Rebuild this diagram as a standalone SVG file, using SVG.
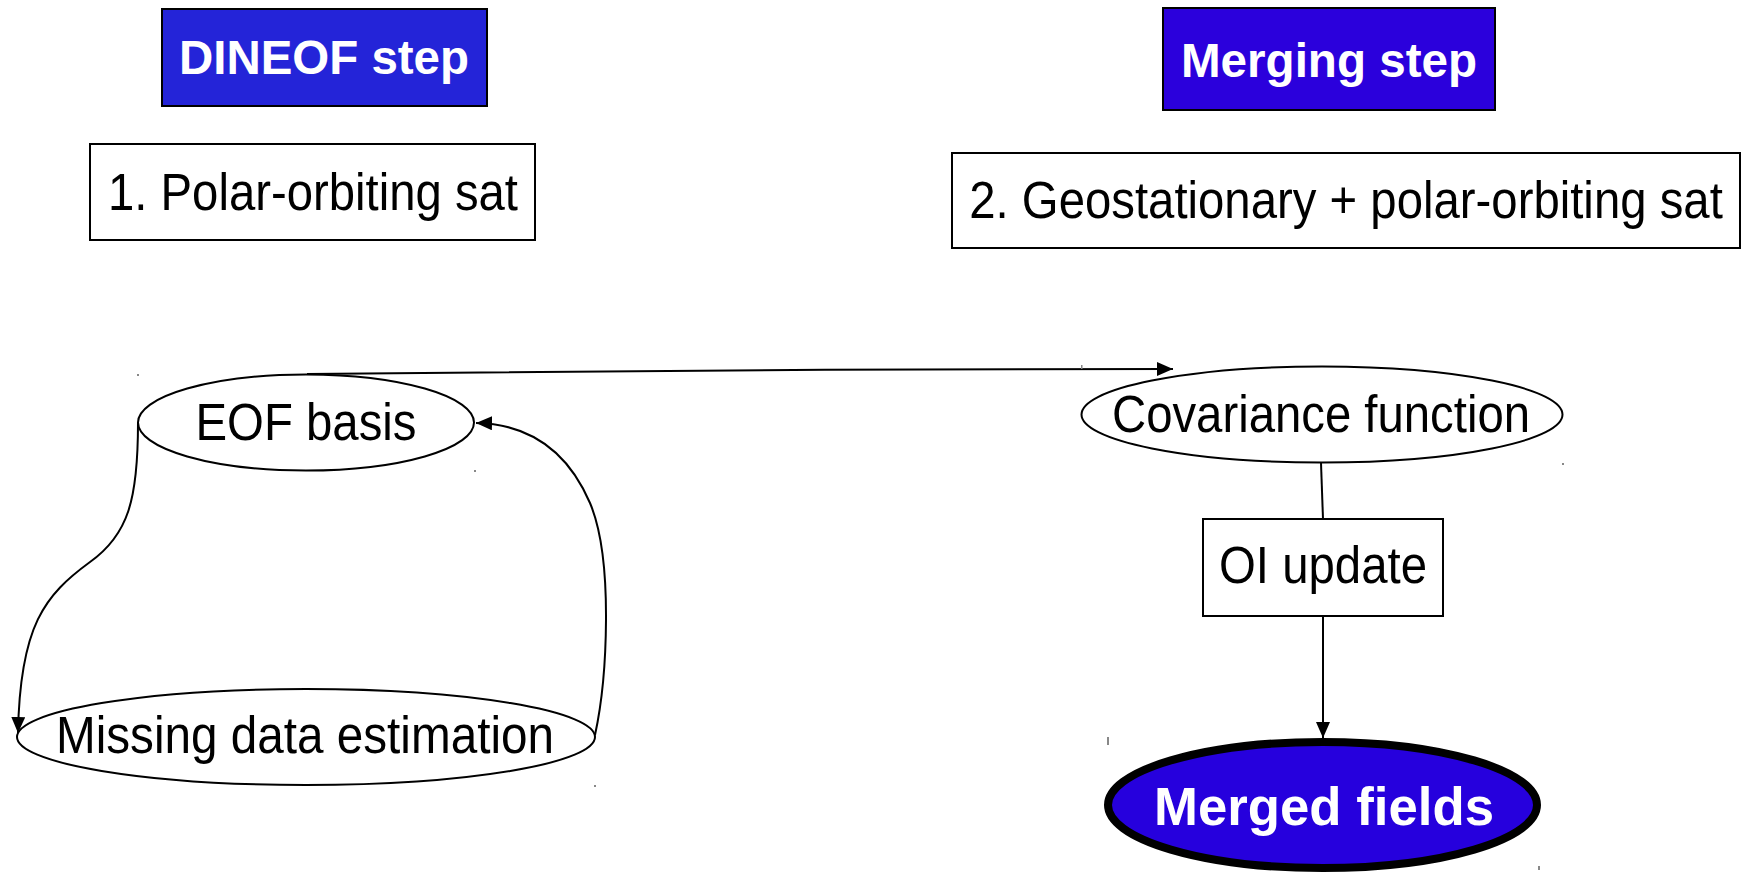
<svg xmlns="http://www.w3.org/2000/svg" width="1745" height="872" viewBox="0 0 1745 872">
  <style>
    .box { fill: #ffffff; stroke: #000000; stroke-width: 2; }
    .node { fill: #ffffff; stroke: #000000; stroke-width: 2; }
    .head { stroke: #000000; stroke-width: 2; }
    .label { font-family: "Liberation Sans", Arial, sans-serif; font-size: 51px; fill: #000000; text-anchor: middle; }
    .title { font-family: "Liberation Sans", Arial, sans-serif; font-size: 48px; font-weight: bold; fill: #ffffff; text-anchor: middle; }
    .edge { fill: none; stroke: #000000; stroke-width: 2; }
    .speck { fill: #888888; }
  </style>
  <defs>
    <marker id="arrow" viewBox="0 0 16 14" refX="16" refY="7" markerWidth="16" markerHeight="14" markerUnits="userSpaceOnUse" orient="auto">
      <path d="M0,0 L16,7 L0,14 Z" fill="#000000"/>
    </marker>
  </defs>

  <rect width="1745" height="872" fill="#ffffff"/>

  <g id="dineof-step">
    <rect x="162" y="9" width="325" height="97" fill="#2424d8" class="head"/>
    <text x="324" y="74" class="title" textLength="290" lengthAdjust="spacingAndGlyphs">DINEOF step</text>
  </g>

  <g id="merging-step">
    <rect x="1163" y="8" width="332" height="102" fill="#2b00dc" class="head"/>
    <text x="1329" y="77" class="title" textLength="296" lengthAdjust="spacingAndGlyphs">Merging step</text>
  </g>

  <g id="polar-sat">
    <rect x="90" y="144" width="445" height="96" class="box"/>
    <text x="313" y="210" class="label" textLength="410" lengthAdjust="spacingAndGlyphs">1. Polar-orbiting sat</text>
  </g>

  <g id="geo-polar-sat">
    <rect x="952" y="153" width="788" height="95" class="box"/>
    <!-- narrowed horizontally so the long label sits inside its box -->
    <text transform="translate(1346,218) scale(0.928,1)" x="0" y="0" class="label">2. Geostationary + polar-orbiting sat</text>
  </g>

  <g id="eof-basis">
    <ellipse cx="306" cy="422.5" rx="168" ry="48" class="node"/>
    <text x="306" y="440" class="label" textLength="221" lengthAdjust="spacingAndGlyphs">EOF basis</text>
  </g>

  <g id="missing-data">
    <ellipse cx="306" cy="737" rx="289" ry="48" class="node"/>
    <text x="305" y="753" class="label" textLength="498" lengthAdjust="spacingAndGlyphs">Missing data estimation</text>
  </g>

  <g id="covariance">
    <ellipse cx="1322" cy="414.5" rx="240.5" ry="48" class="node"/>
    <text x="1321" y="432" class="label" textLength="418" lengthAdjust="spacingAndGlyphs">Covariance function</text>
  </g>

  <g id="oi-update">
    <rect x="1203" y="519" width="240" height="97" class="box"/>
    <text x="1323" y="583" class="label" textLength="208" lengthAdjust="spacingAndGlyphs">OI update</text>
  </g>

  <g id="merged-fields">
    <ellipse cx="1322.5" cy="805" rx="214.5" ry="63" fill="#2600dd" stroke="#000000" stroke-width="8"/>
    <text x="1324" y="825" class="title" style="font-size:53px" textLength="340" lengthAdjust="spacingAndGlyphs">Merged fields</text>
  </g>

  <g id="connectors">
    <path class="edge" d="M307,374 C500,371 900,369 1173,369" marker-end="url(#arrow)"/>
    <path class="edge" d="M138,423 C138,500 128,535 90,562 C45,595 20,625 18,733" marker-end="url(#arrow)"/>
    <path class="edge" d="M595,735 C607,680 614,560 590,503 C568,452 530,424 476,423" marker-end="url(#arrow)"/>
    <path class="edge" d="M1321,463 L1323,519"/>
    <path class="edge" d="M1323,616 L1323,738" marker-end="url(#arrow)"/>
  </g>

  <!-- small guide marks -->
  <g id="specks">
    <rect x="137" y="374" width="2" height="2" class="speck"/>
    <rect x="474" y="470" width="2" height="2" class="speck"/>
    <rect x="594" y="785" width="2" height="2" class="speck"/>
    <rect x="1562" y="463" width="2" height="2" class="speck"/>
    <rect x="1107" y="737" width="2" height="8" class="speck"/>
    <rect x="1538" y="866" width="2" height="4" class="speck"/>
    <rect x="1081" y="365" width="1.5" height="4" class="speck"/>
  </g>
</svg>
